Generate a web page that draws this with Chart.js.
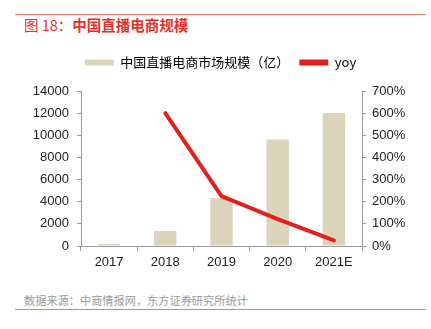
<!DOCTYPE html>
<html>
<head>
<meta charset="utf-8">
<script src="https://cdn.jsdelivr.net/npm/chart.js@4.4.1/dist/chart.umd.min.js"></script>
<style>
  html, body { margin: 0; padding: 0; background: #fff; }
  body { width: 431px; height: 329px; position: relative; overflow: hidden;
         font-family: "Liberation Sans", "Noto Sans CJK SC", sans-serif; }
  .rule { position: absolute; left: 15px; width: 411px; height: 1px; background: #f07b73; }
  #title { position: absolute; left: 24px; top: 16px; font-size: 14.5px; font-weight: bold;
           color: #e8302a; font-family: "Noto Sans CJK SC", sans-serif; line-height: 18px; }
  #title span { font-weight: normal; }
  #source { position: absolute; left: 24px; top: 293px; font-size: 11.2px; color: #9a9a9a;
            font-family: "Noto Sans CJK SC", sans-serif; line-height: 15px; }
  #wrap { position: absolute; left: 0; top: 40px; width: 431px; height: 240px; }
</style>
</head>
<body>
<div class="rule" style="top:14px"></div>
<div id="title"><span>图 18：</span>中国直播电商规模</div>
<div id="wrap"><canvas id="chart"></canvas></div>
<div id="source">数据来源：中商情报网，东方证券研究所统计</div>
<div class="rule" style="top:309px"></div>

<script>
// chart data
const years = ['2017', '2018', '2019', '2020', '2021E'];
const marketSize = [190, 1354, 4338, 9610, 12012];   // 亿
const yoy = [null, 600, 225, 121, 25];                 // %

const FONT = '"Liberation Sans", "Noto Sans CJK SC", sans-serif';
const AXIS = '#9a9a9a';

// pin the legend height so the plot area lands where the reference has it
const legendHeight = {
    id: 'legendHeight',
    beforeInit(chart) {
        const fit = chart.legend.fit;
        chart.legend.fit = function () {
            fit.bind(chart.legend)();
            this.height = 45;
        };
    }
};

new Chart(document.getElementById('chart'), {
    data: {
        labels: years,
        datasets: [{
            type: 'bar',
            label: '中国直播电商市场规模（亿）',
            data: marketSize,
            backgroundColor: '#ddd4bc',
            barPercentage: 0.4,
            categoryPercentage: 1,
            yAxisID: 'y',
            order: 1
        }, {
            type: 'line',
            label: 'yoy',
            data: yoy,
            borderColor: '#e3201b',
            backgroundColor: '#e3201b',
            borderWidth: 4,
            pointRadius: 0,
            tension: 0,
            borderCapStyle: 'round',
            yAxisID: 'y1',
            order: 0
        }]
    },
    options: {
        responsive: true,
        maintainAspectRatio: false,
        animation: false,
        layout: { padding: { top: 6, left: 10, right: 0, bottom: 0 } },
        plugins: {
            tooltip: { enabled: false },
            legend: {
                display: true,
                labels: {
                    color: '#222',
                    font: { family: '"Noto Sans CJK SC", "Liberation Sans", sans-serif', size: 13 },
                    boxWidth: 29,
                    boxHeight: 6,
                    padding: 10,
                    generateLabels(chart) {
                        return chart.data.datasets.map((ds, i) => ({
                            text: ds.label,
                            fillStyle: ds.type === 'line' ? ds.borderColor : ds.backgroundColor,
                            strokeStyle: 'rgba(0,0,0,0)',
                            lineWidth: 0,
                            datasetIndex: i
                        }));
                    }
                }
            }
        },
        scales: {
            x: {
                afterFit(scale) { scale.height = 34; },
                border: { color: AXIS },
                grid: { drawOnChartArea: false, color: AXIS, tickLength: 5, offset: true },
                ticks: { color: '#222', font: { family: FONT, size: 13 }, padding: 4 }
            },
            y: {
                position: 'left',
                min: 0,
                max: 14000,
                afterFit(scale) { scale.width = 71; },
                border: { color: AXIS },
                grid: { drawOnChartArea: false, color: AXIS, tickLength: 4 },
                ticks: {
                    stepSize: 2000,
                    color: '#222',
                    font: { family: FONT, size: 13 },
                    padding: 8,
                    callback: v => String(v)
                }
            },
            y1: {
                position: 'right',
                min: 0,
                max: 700,
                afterFit(scale) { scale.width = 69; },
                border: { color: AXIS },
                grid: { drawOnChartArea: false, color: AXIS, tickLength: 4 },
                ticks: {
                    stepSize: 100,
                    color: '#222',
                    font: { family: FONT, size: 13 },
                    padding: 6,
                    callback: v => v + '%'
                }
            }
        }
    },
    plugins: [legendHeight]
});
</script>
</body>
</html>
